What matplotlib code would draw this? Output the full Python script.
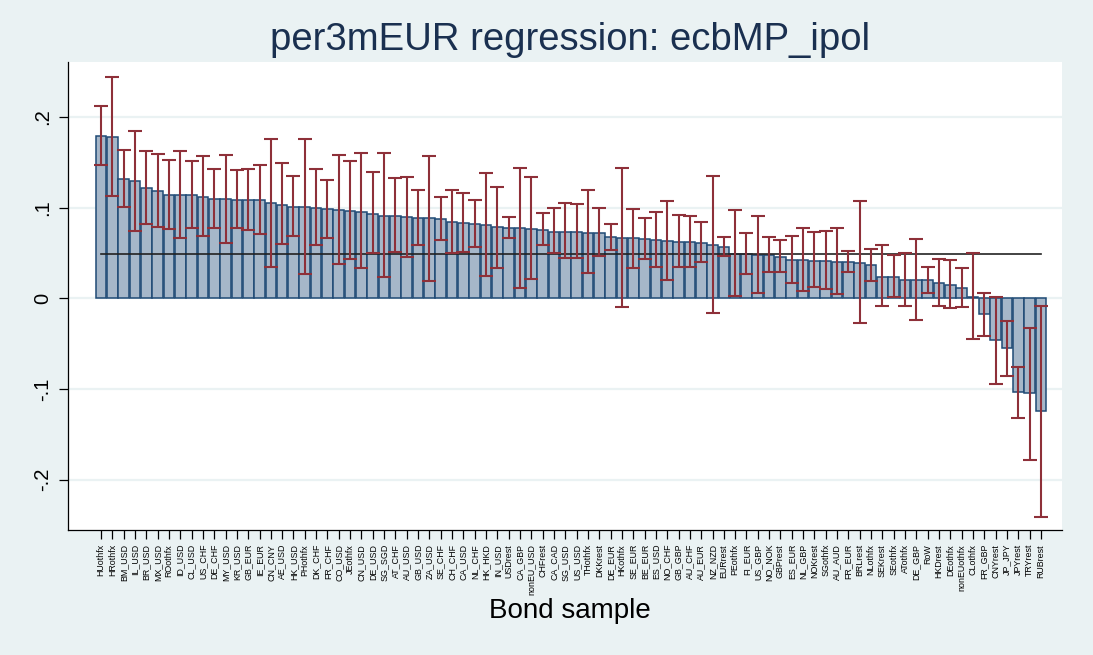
import numpy as np
import matplotlib
matplotlib.use("Agg")
import matplotlib.pyplot as plt

# Bond-sample regression coefficients with confidence bounds
samples = [
    "HUothfx", "HRothfx", "BM_USD", "IL_USD", "BR_USD", "MX_USD", "ROothfx", "ID_USD",
    "CL_USD", "US_CHF", "DE_CHF", "MY_USD", "KR_USD", "GB_EUR", "IE_EUR", "CN_CNY",
    "AE_USD", "HK_USD", "PHothfx", "DK_CHF", "FR_CHF", "CO_USD", "JEothfx", "CN_USD",
    "DE_USD", "SG_SGD", "AT_CHF", "AU_USD", "GB_USD", "ZA_USD", "SE_CHF", "CH_CHF",
    "CA_USD", "NL_CHF", "HK_HKD", "IN_USD", "USDrest", "CA_GBP", "nonEU_USD", "CHFrest",
    "CA_CAD", "SG_USD", "US_USD", "THothfx", "DKKrest", "DE_EUR", "HKothfx", "SE_EUR",
    "BE_EUR", "ES_USD", "NO_CHF", "GB_GBP", "AU_CHF", "AU_EUR", "NZ_NZD", "EURrest",
    "PEothfx", "FI_EUR", "US_GBP", "NO_NOK", "GBPrest", "ES_EUR", "NL_GBP", "NOKrest",
    "SGothfx", "AU_AUD", "FR_EUR", "BRLrest", "NLothfx", "SEKrest", "SEothfx", "ATothfx",
    "DE_GBP", "RoW", "HKDrest", "DEothfx", "nonEUothfx", "CLothfx", "FR_GBP", "CNYrest",
    "JP_JPY", "JPYrest", "TRYrest", "RUBrest",
]

coef = [
    0.1786, 0.1780, 0.1315, 0.1290, 0.1213, 0.1180, 0.1142, 0.1135, 0.1135, 0.1120,
    0.1098, 0.1090, 0.1088, 0.1084, 0.1080, 0.1047, 0.1032, 0.1010, 0.1003, 0.0999,
    0.0981, 0.0970, 0.0966, 0.0955, 0.0933, 0.0911, 0.0911, 0.0893, 0.0885, 0.0882,
    0.0878, 0.0841, 0.0827, 0.0819, 0.0805, 0.0783, 0.0775, 0.0772, 0.0768, 0.0757,
    0.0735, 0.0735, 0.0731, 0.0724, 0.0724, 0.0673, 0.0665, 0.0661, 0.0654, 0.0639,
    0.0628, 0.0624, 0.0617, 0.0606, 0.0584, 0.0562, 0.0492, 0.0488, 0.0481, 0.0477,
    0.0459, 0.0422, 0.0419, 0.0415, 0.0411, 0.0404, 0.0397, 0.0393, 0.0364, 0.0239,
    0.0235, 0.0205, 0.0202, 0.0198, 0.0165, 0.0150, 0.0110, 0.0018, -0.0176, -0.0460,
    -0.0548, -0.1033, -0.1047, -0.1243,
]

ci_hi = [
    0.2120, 0.2440, 0.1630, 0.1845, 0.1624, 0.1590, 0.1530, 0.1624, 0.1514, 0.1570,
    0.1426, 0.1584, 0.1418, 0.1426, 0.1470, 0.1760, 0.1490, 0.1345, 0.1756, 0.1426,
    0.1300, 0.1577, 0.1514, 0.1600, 0.1392, 0.1599, 0.1323, 0.1334, 0.1197, 0.1572,
    0.1120, 0.1197, 0.1164, 0.1087, 0.1381, 0.1230, 0.0896, 0.1433, 0.1337, 0.0944,
    0.0999, 0.1054, 0.1043, 0.1190, 0.0992, 0.0816, 0.1437, 0.0985, 0.0880, 0.0948,
    0.1073, 0.0918, 0.0907, 0.0841, 0.1348, 0.0672, 0.0977, 0.0717, 0.0911, 0.0676,
    0.0646, 0.0687, 0.0778, 0.0731, 0.0745, 0.0778, 0.0521, 0.1070, 0.0544, 0.0588,
    0.0481, 0.0500, 0.0650, 0.0349, 0.0430, 0.0419, 0.0334, 0.0500, 0.0062, 0.0011,
    -0.0247, -0.0754, -0.0331, -0.0085,
]

ci_lo = [
    0.1470, 0.1128, 0.1010, 0.0746, 0.0816, 0.0783, 0.0768, 0.0668, 0.0775, 0.0687,
    0.0775, 0.0610, 0.0779, 0.0757, 0.0709, 0.0349, 0.0593, 0.0687, 0.0268, 0.0588,
    0.0668, 0.0378, 0.0433, 0.0334, 0.0496, 0.0238, 0.0507, 0.0459, 0.0584, 0.0194,
    0.0643, 0.0500, 0.0507, 0.0569, 0.0249, 0.0337, 0.0668, 0.0117, 0.0213, 0.0591,
    0.0496, 0.0441, 0.0441, 0.0279, 0.0470, 0.0536, -0.0099, 0.0337, 0.0435, 0.0342,
    0.0198, 0.0348, 0.0345, 0.0397, -0.0160, 0.0463, 0.0022, 0.0271, 0.0062, 0.0290,
    0.0290, 0.0172, 0.0080, 0.0121, 0.0099, 0.0047, 0.0287, -0.0276, 0.0194, -0.0088,
    0.0011, -0.0081, -0.0236, 0.0062, -0.0085, -0.0107, -0.0099, -0.0449, -0.0419, -0.0942,
    -0.0853, -0.1320, -0.1780, -0.2408,
]

pooled = 0.049

y_ticks = [-0.2, -0.1, 0.0, 0.1, 0.2]
y_ticklabels = ["-.2", "-.1", "0", ".1", ".2"]

plt.rcParams["font.family"] = ["Liberation Sans", "DejaVu Sans"]

BG = "#EAF2F3"
NAVY = "#1F4A75"
FILL = "#A6B7C9"
MAROON = "#8E3039"

fig = plt.figure(figsize=(10.93, 6.55), dpi=100, facecolor=BG)
ax = fig.add_axes([68 / 1093, 1 - 530 / 655, (1062 - 68) / 1093, (530 - 62) / 655])
ax.set_facecolor("white")

x = np.arange(len(samples))
c = np.array(coef)
hi = np.array(ci_hi)
lo = np.array(ci_lo)

for yv in y_ticks:
    ax.axhline(yv, color=BG, lw=1.6, zorder=0)

ax.bar(x, c, width=0.94, color=FILL, edgecolor=NAVY, linewidth=1.1, zorder=2)
ax.plot([x[0], x[-1]], [pooled, pooled], color="#222222", lw=1.2, zorder=3)
ax.errorbar(x, c, yerr=[c - lo, hi - c], fmt="none", ecolor=MAROON,
            elinewidth=1.5, capsize=5, capthick=1.5, zorder=4)

ax.set_xlim(-2.91, 84.86)
ax.set_ylim(-0.2555, 0.2605)

ax.set_xticks(x)
ax.set_xticklabels(samples, rotation=90, fontsize=6.4, va="top", ha="center")
ax.set_yticks(y_ticks)
ax.set_yticklabels(y_ticklabels, rotation=90, fontsize=14.5, va="center")

ax.tick_params(axis="x", length=6.5, width=0.9, pad=3.5, colors="black")
ax.tick_params(axis="y", length=6.5, width=0.9, pad=5, colors="black")

for side in ("top", "right"):
    ax.spines[side].set_visible(False)
for side in ("left", "bottom"):
    ax.spines[side].set_color("black")
    ax.spines[side].set_linewidth(0.9)

fig.text(570 / 1093, 1 - 40 / 655, "per3mEUR regression: ecbMP_ipol",
         ha="center", va="center", fontsize=27.5, color="#1A3050")
fig.text(570 / 1093, 1 - 611 / 655, "Bond sample",
         ha="center", va="center", fontsize=20, color="black")

fig.savefig("out.png", dpi=100, facecolor=BG)
